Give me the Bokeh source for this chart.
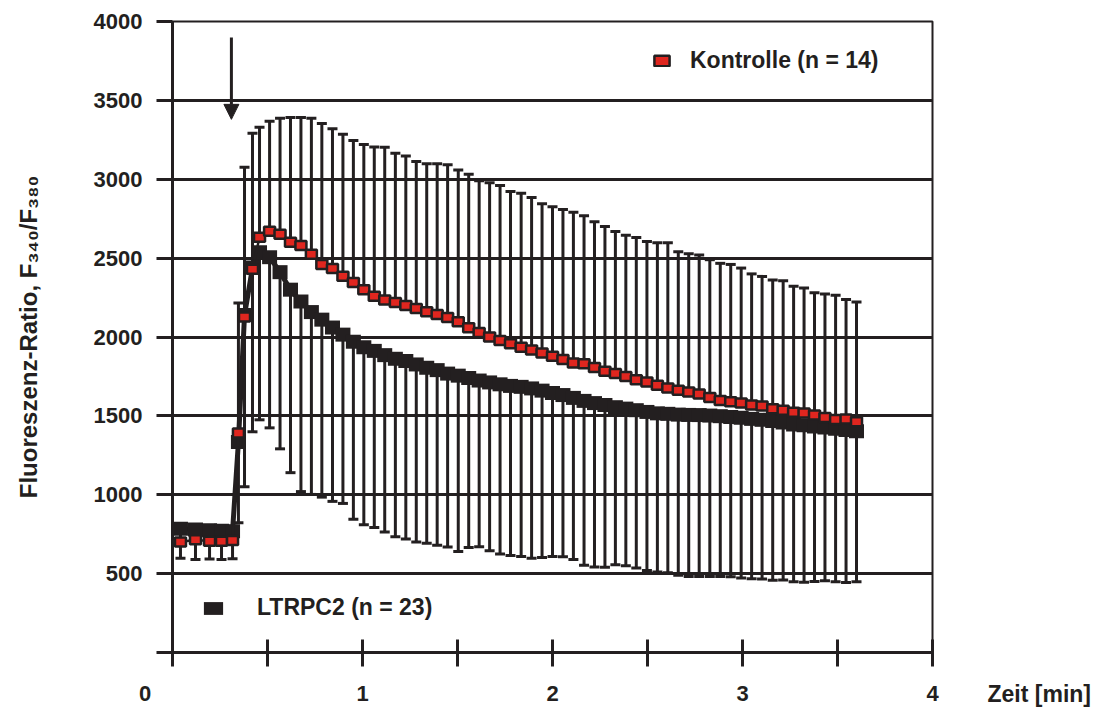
from bokeh.embed import file_html
from bokeh.models import (Arrow, ColumnDataSource, FixedTicker, Label, Legend,
                          LegendItem, NormalHead, Range1d)
from bokeh.plotting import figure
from bokeh.resources import INLINE

# ---------------------------------------------------------------- data
# time after start of recording [min]
time_min = [
    0.042, 0.121, 0.195, 0.258, 0.316,
    0.347, 0.379, 0.421, 0.458,
    0.511, 0.566, 0.621, 0.676, 0.731, 0.786, 0.842, 0.897, 0.952, 1.007,
    1.062, 1.117, 1.173, 1.228, 1.283, 1.338, 1.393, 1.448, 1.504, 1.559,
    1.614, 1.669, 1.724, 1.779, 1.835, 1.890, 1.945, 2.000, 2.055, 2.110,
    2.166, 2.221, 2.276, 2.331, 2.386, 2.441, 2.497, 2.552, 2.607, 2.662,
    2.717, 2.772, 2.828, 2.883, 2.938, 2.993, 3.048, 3.103, 3.159, 3.214,
    3.269, 3.324, 3.379, 3.434, 3.490, 3.545, 3.600,
]

# Kontrolle: mean ratio and mean + SD
kontrolle_mean = [
    700, 715, 705, 705, 710,
    1392, 2127, 2430, 2633,
    2670, 2652, 2601, 2580, 2525, 2460, 2435, 2385, 2345, 2300,
    2258, 2235, 2219, 2199, 2180, 2160, 2142, 2123, 2097, 2058,
    2029, 2000, 1978, 1958, 1935, 1917, 1899, 1878, 1858, 1835,
    1830, 1807, 1783, 1769, 1749, 1729, 1714, 1694, 1676, 1663,
    1651, 1639, 1616, 1597, 1590, 1582, 1569, 1563, 1545, 1535,
    1523, 1518, 1505, 1490, 1477, 1480, 1462,
]
kontrolle_upper = [
    790, 805, 795, 795, 800,
    2215, 3076, 3291, 3329,
    3367, 3386, 3392, 3392, 3386, 3354, 3320, 3285, 3245, 3220,
    3205, 3203, 3165, 3148, 3112, 3098, 3098, 3092, 3058, 3032,
    2990, 2978, 2960, 2922, 2911, 2885, 2845, 2825, 2808, 2791,
    2768, 2730, 2700, 2668, 2645, 2630, 2605, 2597, 2598, 2540,
    2528, 2520, 2490, 2467, 2460, 2437, 2400, 2384, 2361, 2356,
    2322, 2310, 2280, 2273, 2264, 2238, 2222,
]

# LTRPC2: mean ratio and mean - SD
ltrpc2_mean = [
    785, 780, 775, 772, 768,
    1335, 2139, 2440, 2538,
    2506, 2411, 2300, 2225, 2158, 2110, 2060, 2015, 1970, 1935,
    1912, 1885, 1862, 1848, 1826, 1805, 1790, 1768, 1755, 1740,
    1724, 1712, 1700, 1690, 1684, 1674, 1660, 1645, 1632, 1614,
    1595, 1581, 1569, 1555, 1546, 1536, 1525, 1516, 1513, 1508,
    1506, 1505, 1502, 1498, 1493, 1488, 1481, 1475, 1467, 1458,
    1446, 1440, 1433, 1426, 1418, 1410, 1402,
]
ltrpc2_lower = [
    598, 590, 592, 590, 595,
    823, 1051, 1399, 1475,
    1424, 1291, 1140, 1020, 1002, 985, 958, 945, 845, 810,
    792, 764, 733, 720, 700, 692, 680, 668, 640, 665,
    671, 645, 625, 615, 608, 598, 602, 608, 607, 590,
    553, 542, 540, 557, 550, 535, 520, 511, 506, 490,
    482, 481, 481, 481, 480, 472, 468, 466, 458, 460,
    449, 445, 450, 455, 449, 444, 449,
]

x_ticks = [0, 1, 2, 3, 4]
x_minor_ticks = [0.5, 1.5, 2.5, 3.5]
y_ticks = [0, 500, 1000, 1500, 2000, 2500, 3000, 3500, 4000]

label_kontrolle = "Kontrolle (n = 14)"
label_ltrpc2 = "LTRPC2 (n = 23)"
y_title = "Fluoreszenz-Ratio, F\u2083\u2084\u2080/F\u2083\u2088\u2080"
x_title = "Zeit [min]"
origin_label = "0"
stimulus_time = 0.31

# ---------------------------------------------------------------- style
INK = "#231f20"
RED = "#e0261f"
FONT = "Liberation Sans"

LEFT, RIGHT, TOP, BOTTOM = 172, 932, 21, 653
W, H = 1102, 708
X0, X1, Y0, Y1 = 0, 4, 0, 4000


def dx(px):
    """canvas x pixel -> data x"""
    return X0 + (px - LEFT) * (X1 - X0) / (RIGHT - LEFT)


def dy(py):
    """canvas y pixel -> data y"""
    return Y0 + (BOTTOM - py) * (Y1 - Y0) / (BOTTOM - TOP)


p = figure(
    width=W, height=H,
    x_range=Range1d(X0, X1), y_range=Range1d(Y0, Y1),
    output_backend="svg", toolbar_location=None, title=None,
    min_border_left=LEFT, min_border_right=W - RIGHT,
    min_border_top=TOP, min_border_bottom=H - BOTTOM,
)
p.background_fill_color = "white"
p.border_fill_color = "white"
p.outline_line_color = INK
p.outline_line_width = 2

# axes
for ax in (p.xaxis[0], p.yaxis[0]):
    ax.axis_line_color = INK
    ax.axis_line_width = 3
    ax.major_tick_line_color = INK
    ax.major_tick_line_width = 3
    ax.major_label_text_font = FONT
    ax.major_label_text_font_style = "bold"
    ax.major_label_text_font_size = "22px"
    ax.major_label_text_color = INK

p.xaxis.ticker = FixedTicker(ticks=x_ticks, minor_ticks=x_minor_ticks)
p.xaxis.major_tick_in = 13
p.xaxis.major_tick_out = 14
p.xaxis.minor_tick_in = 13
p.xaxis.minor_tick_out = 14
p.xaxis.minor_tick_line_color = INK
p.xaxis.minor_tick_line_width = 3
p.xaxis.major_label_standoff = 14
# the shared origin label sits left of the corner: pad it with no-break spaces
p.xaxis.major_label_overrides = {0: origin_label + "\u00a0" * 9}

p.yaxis.ticker = FixedTicker(ticks=y_ticks)
p.yaxis.major_tick_in = 0
p.yaxis.major_tick_out = 16
p.yaxis.minor_tick_line_color = None
p.yaxis.major_label_standoff = 14
p.yaxis.major_label_overrides = {0: ""}
p.yaxis.axis_label = y_title
p.yaxis.axis_label_standoff = 49
p.yaxis.axis_label_text_font = FONT
p.yaxis.axis_label_text_font_style = "bold"
p.yaxis.axis_label_text_font_size = "24px"
p.yaxis.axis_label_text_color = INK

p.xgrid.grid_line_color = None
p.ygrid.ticker = FixedTicker(ticks=y_ticks)
p.ygrid.grid_line_color = INK
p.ygrid.grid_line_width = 3

# ---------------------------------------------------------------- marks
src = ColumnDataSource(dict(
    t=time_min,
    k=kontrolle_mean, ku=kontrolle_upper,
    l=ltrpc2_mean, ll=ltrpc2_lower,
))

# error bars: Kontrolle upwards, LTRPC2 downwards
p.segment(x0="t", y0="k", x1="t", y1="ku", source=src, line_color=INK, line_width=3)
p.segment(x0="t", y0="l", x1="t", y1="ll", source=src, line_color=INK, line_width=3)
p.rect(x="t", y="ku", width=10, height=3, width_units="screen", height_units="screen",
       source=src, fill_color=INK, line_color=None)
p.rect(x="t", y="ll", width=10, height=3, width_units="screen", height_units="screen",
       source=src, fill_color=INK, line_color=None)

# LTRPC2 series
p.line(x="t", y="l", source=src, line_color=INK, line_width=5)
r_ltrpc2 = p.rect(x="t", y="l", width=15, height=14, width_units="screen",
                  height_units="screen", source=src, fill_color=INK, line_color=None)

# Kontrolle series
p.line(x="t", y="k", source=src, line_color=INK, line_width=2.5)
r_kontrolle = p.rect(x="t", y="k", width=11, height=9, width_units="screen",
                     height_units="screen", source=src, fill_color=RED,
                     line_color=INK, line_width=2.5)

# ---------------------------------------------------------------- legends
def make_legend(label, renderer, loc, gw, gh, standoff):
    return Legend(
        items=[LegendItem(label=label, renderers=[renderer])],
        location=loc, glyph_width=gw, glyph_height=gh, label_standoff=standoff,
        padding=0, margin=0, spacing=0, label_height=gh,
        border_line_color=None, background_fill_alpha=0,
        label_text_font=FONT, label_text_font_style="bold",
        label_text_font_size="23px", label_text_color=INK,
    )


p.add_layout(make_legend(label_kontrolle, r_kontrolle, (480, 578), 19, 13, 19))
p.add_layout(make_legend(label_ltrpc2, r_ltrpc2, (29, 31), 24, 16, 32))

# ---------------------------------------------------------------- stimulus arrow
p.add_layout(Arrow(
    end=NormalHead(size=15, fill_color=INK, line_color=INK, line_width=1),
    x_start=stimulus_time, y_start=dy(37), x_end=stimulus_time, y_end=dy(119),
    line_color=INK, line_width=3,
))

# ---------------------------------------------------------------- x-axis title, right of the axis end
p.add_layout(Label(x=dx(987), y=dy(695), text=x_title, text_align="left",
                   text_baseline="alphabetic", text_font=FONT, text_font_style="bold",
                   text_font_size="23px", text_color=INK), "right")

open("out.html", "w").write(file_html(p, INLINE))
